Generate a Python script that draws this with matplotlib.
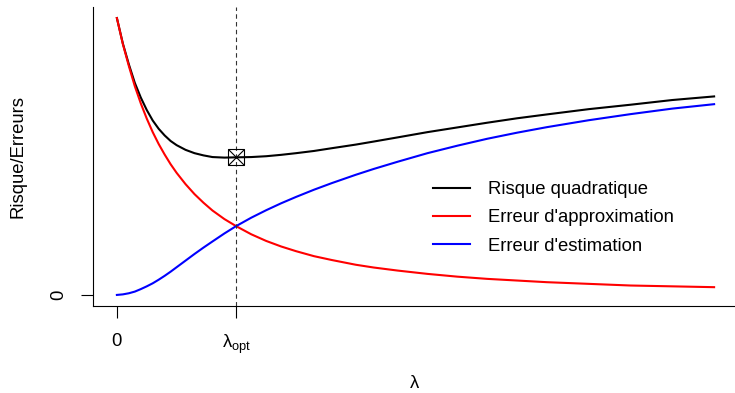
import matplotlib
matplotlib.use("Agg")
import matplotlib.pyplot as plt

plt.rcParams['font.family'] = ['Liberation Sans', 'DejaVu Sans']
plt.rcParams['mathtext.fontset'] = 'custom'
plt.rcParams['mathtext.rm'] = 'Liberation Sans'

# lambda (scaled 0..1) and curve values
lam = [0, 0.01, 0.02, 0.03, 0.04, 0.05, 0.06, 0.07, 0.08, 0.09, 0.10, 0.115,
       0.13, 0.145, 0.16, 0.18, 0.20, 0.225, 0.25, 0.275, 0.30, 0.33, 0.36,
       0.40, 0.43, 0.47, 0.52, 0.57, 0.62, 0.67, 0.72, 0.79, 0.86, 0.93, 1.0]
risque = [1.0, 0.908, 0.833, 0.766, 0.713, 0.668, 0.630, 0.600, 0.576, 0.556,
          0.541, 0.524, 0.512, 0.504, 0.498, 0.496, 0.497, 0.498, 0.501, 0.506,
          0.512, 0.520, 0.530, 0.543, 0.554, 0.569, 0.588, 0.605, 0.622, 0.638,
          0.652, 0.671, 0.687, 0.704, 0.717]
approx = [1.0, 0.906, 0.827, 0.754, 0.692, 0.637, 0.588, 0.545, 0.507, 0.472,
          0.441, 0.400, 0.364, 0.333, 0.305, 0.274, 0.248, 0.219, 0.195, 0.175,
          0.158, 0.140, 0.126, 0.109, 0.099, 0.088, 0.076, 0.066, 0.058, 0.052,
          0.046, 0.040, 0.034, 0.031, 0.028]
estim = [0, 0.002, 0.006, 0.012, 0.021, 0.031, 0.042, 0.055, 0.069, 0.084,
         0.100, 0.124, 0.148, 0.171, 0.193, 0.222, 0.249, 0.279, 0.306, 0.331,
         0.354, 0.380, 0.404, 0.434, 0.455, 0.481, 0.512, 0.539, 0.564, 0.586,
         0.606, 0.631, 0.653, 0.673, 0.689]
lam_opt = 0.20
risque_opt = 0.497

W, H = 735, 393
fig = plt.figure(figsize=(W / 100, H / 100), dpi=100)
ax = fig.add_axes([93 / W, 1 - 306 / H, 645 / W, 299 / H])

ax.plot(lam, risque, color='black', lw=1.5, label='Risque quadratique')
ax.plot(lam, approx, color='red', lw=1.5, label="Erreur d'approximation")
ax.plot(lam, estim, color='blue', lw=1.5, label="Erreur d'estimation")

ax.axvline(lam_opt, color='#333333', lw=0.8, dashes=(4, 3))
ax.plot([lam_opt], [risque_opt], marker='s', ms=11.5, mfc='none', mec='black', mew=0.8)
ax.plot([lam_opt], [risque_opt], marker='x', ms=11.5, mec='black', mew=0.8)

ax.set_xlim(-0.04, 1.04)
ax.set_ylim(-0.04, 1.04)
ax.spines['top'].set_visible(False)
ax.spines['right'].set_visible(False)
ax.spines['left'].set_linewidth(0.8)
ax.spines['bottom'].set_linewidth(0.8)

ax.set_xticks([0, lam_opt])
ax.set_xticklabels(['0', r'$\mathregular{λ_{opt}}$'])
ax.set_yticks([0])
ax.set_yticklabels(['0'], rotation=90, va='center')
ax.tick_params(length=8.6, width=0.8, labelsize=13.3)
ax.tick_params(axis='x', pad=11)
ax.tick_params(axis='y', pad=10)

fig.text(414 / W, 1 - 384 / H, 'λ', ha='center', va='center', fontsize=13.3)
fig.text(18 / W, 1 - 157 / H, 'Risque/Erreurs', ha='center', va='center',
         rotation=90, fontsize=13.3)

ax.legend(loc='upper left', bbox_to_anchor=(433 / W, 1 - 181 / H),
          bbox_transform=fig.transFigure, frameon=False, fontsize=13.3,
          handlelength=2.0, handletextpad=1.0, labelspacing=0.62,
          borderpad=0, borderaxespad=0)

fig.savefig('out.png', dpi=100)
